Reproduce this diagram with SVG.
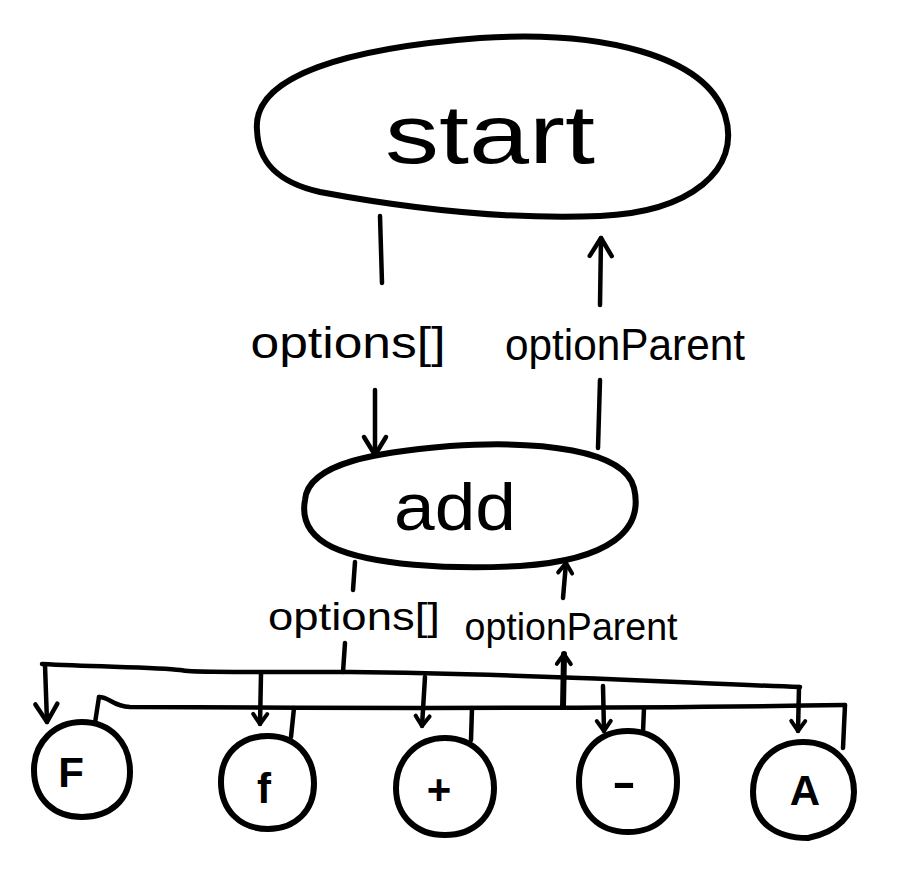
<svg xmlns="http://www.w3.org/2000/svg" width="920" height="878" viewBox="0 0 920 878">
<defs>
<style>
.s{fill:none;stroke:#000;stroke-width:6;stroke-linecap:round;stroke-linejoin:round}
.c{fill:none;stroke:#000;stroke-width:4.5;stroke-linecap:round;stroke-linejoin:round}
.t{font-family:"Liberation Sans","DejaVu Sans",sans-serif;fill:#000}
.n{font-family:"Liberation Sans","DejaVu Sans",sans-serif;fill:#000;font-weight:bold;font-size:42px}
</style>
<marker id="ab" markerUnits="userSpaceOnUse" viewBox="-20 -14 24 28" refX="0" refY="0" markerWidth="24" markerHeight="28" orient="auto" overflow="visible">
<path d="M-18,-11 L0,0 L-18,11" fill="none" stroke="#000" stroke-width="4.5" stroke-linecap="round" stroke-linejoin="round"/>
</marker>
<marker id="as" markerUnits="userSpaceOnUse" viewBox="-12 -10 14 20" refX="0" refY="0" markerWidth="14" markerHeight="20" orient="auto" overflow="visible">
<path d="M-10,-7 L0,0 L-10,7" fill="none" stroke="#000" stroke-width="4" stroke-linecap="round" stroke-linejoin="round"/>
</marker>
</defs>
<rect width="920" height="878" fill="#fff"/>

<g id="start">
<path class="s" d="M257,130 C252,75 350,48 480,38 C600,30 705,55 725,115 C742,170 690,212 600,216 C500,220 400,207 320,192 C275,182 258,160 257,130 Z"/>
<text class="t" x="490" y="163" font-size="84" text-anchor="middle" textLength="210" lengthAdjust="spacingAndGlyphs">start</text>
</g>

<g id="add">
<path class="s" d="M305,500 C308,462 380,452 450,446 C540,440 625,450 634,488 C644,530 610,560 520,566 C450,570 370,565 332,547 C306,534 302,516 305,500 Z"/>
<text class="t" x="455" y="530" font-size="66" text-anchor="middle" textLength="122" lengthAdjust="spacingAndGlyphs">add</text>
</g>

<g id="nodeF">
<path class="s" d="M82,722 C110,722 130,742 130,772 C130,800 110,817 82,817 C55,817 34,800 34,770 C34,742 55,722 82,722 Z"/>
<text class="n" x="71" y="787" text-anchor="middle">F</text>
</g>
<g id="nodef">
<path class="s" d="M268,736 C296,736 314,756 314,784 C314,810 296,829 268,829 C240,829 221,810 221,782 C221,754 240,736 268,736 Z"/>
<text class="n" x="264" y="803" text-anchor="middle">f</text>
</g>
<g id="nodePlus">
<path class="s" d="M445,738 C474,738 494,760 494,788 C494,816 474,835 445,835 C416,835 396,816 396,788 C396,760 416,738 445,738 Z"/>
<text class="n" x="439" y="804" text-anchor="middle">+</text>
</g>
<g id="nodeMinus">
<path class="s" d="M628,731 C658,731 677,752 677,782 C677,812 658,832 628,832 C598,832 579,812 579,782 C579,752 598,731 628,731 Z"/>
<text class="n" x="624" y="797" text-anchor="middle" textLength="24" lengthAdjust="spacingAndGlyphs">-</text>
</g>
<g id="nodeA">
<path class="s" d="M803,742 C834,742 854,764 854,792 C854,815 838,832 808,838 C775,838 753,822 753,792 C753,762 775,742 803,742 Z"/>
<text class="n" x="805" y="805" text-anchor="middle">A</text>
</g>

<g id="labels">
<text class="t" x="348" y="358" font-size="44" text-anchor="middle" textLength="195" lengthAdjust="spacingAndGlyphs">options[]</text>
<text class="t" x="625" y="360" font-size="44" text-anchor="middle" textLength="240" lengthAdjust="spacingAndGlyphs">optionParent</text>
<text class="t" x="354" y="630" font-size="38" text-anchor="middle" textLength="172" lengthAdjust="spacingAndGlyphs">options[]</text>
<text class="t" x="571" y="640" font-size="38" text-anchor="middle" textLength="213" lengthAdjust="spacingAndGlyphs">optionParent</text>
</g>

<g id="connectors">
<path class="c" d="M380,216 L382,283"/>
<path class="c" d="M375,390 L375,455" marker-end="url(#ab)"/>
<path class="c" d="M600,305 L601,238" marker-end="url(#ab)"/>
<path class="c" d="M600,380 L598,448"/>
<path class="c" d="M355,562 L353,590"/>
<path class="c" d="M563,598 L566,563" marker-end="url(#as)"/>
<path class="c" d="M345,643 L343,672"/>
<path class="c" d="M42,664 C100,667 160,667 180,670 C190,672 200,672 350,672 C550,674 700,684 800,687"/>
<path class="c" d="M45,665 L47,722" marker-end="url(#ab)"/>
<path class="c" d="M261,674 L260,724" marker-end="url(#as)"/>
<path class="c" d="M425,677 L422,726" marker-end="url(#as)"/>
<path class="c" d="M603,686 L604,731" marker-end="url(#as)"/>
<path class="c" d="M799,687 L798,731" marker-end="url(#as)"/>
<path class="c" d="M99,697 C110,697 112,706 130,707 C300,708 600,709 845,705"/>
<path class="c" d="M99,697 L95,723"/>
<path class="c" d="M294,708 L291,737"/>
<path class="c" d="M472,708 L471,740"/>
<path class="c" d="M644,708 L643,732"/>
<path class="c" d="M845,705 L843,748"/>
<path class="s" d="M563,707 L564,654" marker-end="url(#as)"/>
</g>
</svg>
